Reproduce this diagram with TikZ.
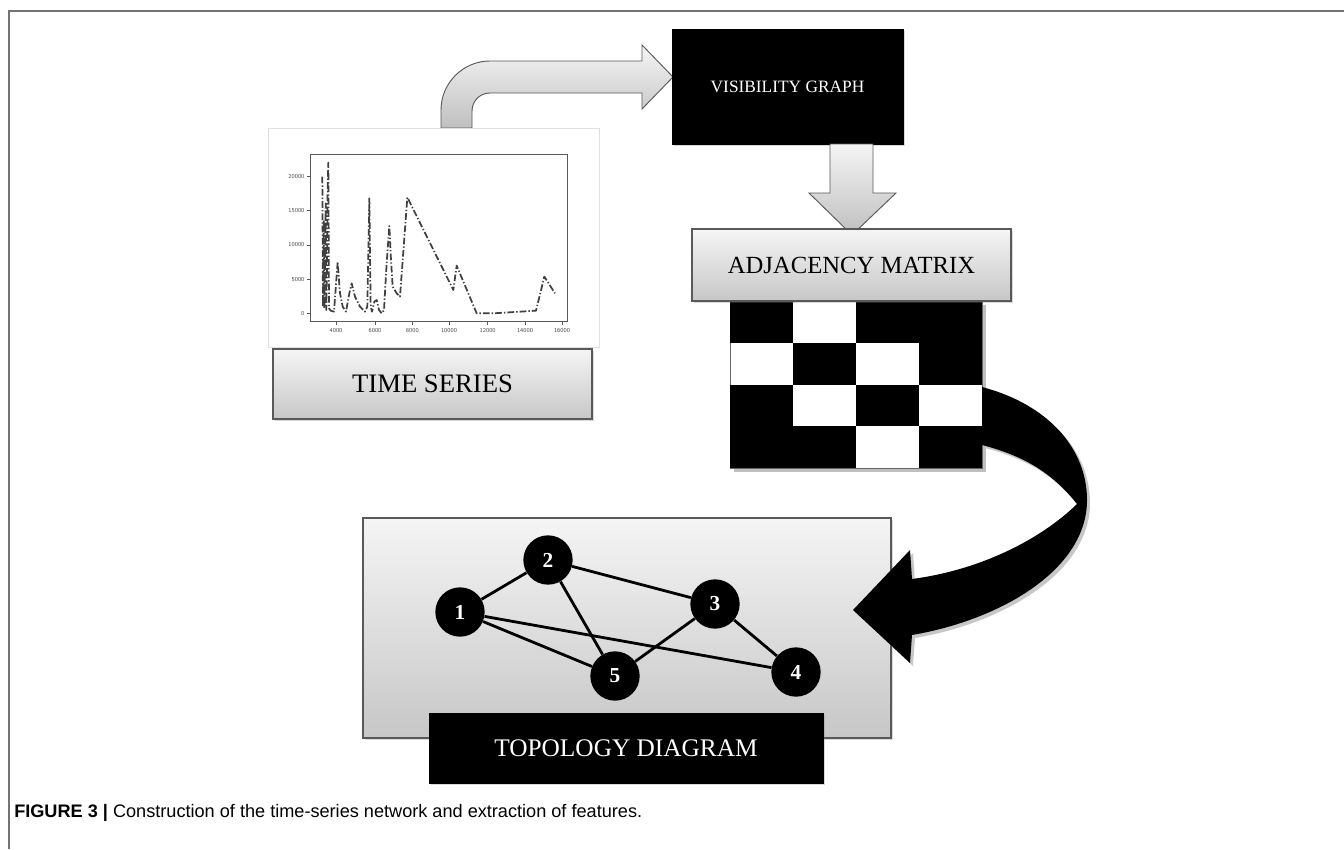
\documentclass[tikz,border=0pt]{standalone}
\usepackage{fontspec}
\setmainfont{Liberation Serif}
\newfontfamily\capfont{Liberation Sans}
\usetikzlibrary{calc,shadows}

\tikzset{
	framegray/.style={draw=black!55, line width=1.1pt},
	blackbox/.style={draw=black, fill=black, text=white, inner sep=0pt,
		drop shadow={shadow xshift=1.5pt, shadow yshift=-1.5pt, opacity=0.3}},
	graybox/.style={draw=black!65, line width=0.8pt, top color=black!4, bottom color=black!22, inner sep=0pt,
		drop shadow={shadow xshift=1.5pt, shadow yshift=-1.5pt, opacity=0.3}},
	blockarrow/.style={draw=black!65, line width=0.7pt, top color=black!4, bottom color=black!25},
	vertex/.style={circle, fill=black, minimum size=37pt, inner sep=0pt, text=white,
		font=\bfseries\fontsize{16}{18}\selectfont},
	link/.style={line width=2.1pt, black},
	ticklabel/.style={font=\sffamily\fontsize{4.5}{5}\selectfont, text=black!70, inner sep=0pt},
	series/.style={black!75, line width=1.3pt, line join=round, dash pattern=on 5pt off 1.6pt on 1pt off 1.6pt}
}

\begin{document}
\begin{tikzpicture}[x=0.75pt,y=-0.75pt]
	\useasboundingbox (0,0) rectangle (1344,849);
	\draw[framegray] (1344,11) -- (9,11) -- (9,849);

	% time series to visibility graph
	\draw[blockarrow] (441,128) -- (441,110) .. controls (441,83) and (463,61) .. (490,61) -- (642,61) -- (642,45)
		-- (673,77) -- (642,109) -- (642,93) -- (490,93) .. controls (480,93) and (472,101) .. (472,111) -- (472,128) -- cycle;

	% time series panel
	\draw[draw=black!12, fill=white] (268,128) rectangle (599,347);
	\begin{scope}[shift={(260,120)},scale=1/3]
		\draw[black!65, line width=0.6pt] (150,103) rectangle (922,604);
		\foreach \xv/\xl in {228/4000,345/6000,457/8000,567/10000,683/12000,795/14000,906/16000}{
			\draw[black!65, line width=0.4pt] (\xv,604) -- (\xv,614);
			\node[ticklabel] (xt\xl) at (\xv,632) {\xl};
		}
		\foreach \yv/\yl in {169/20000,272/15000,375/10000,478/5000,581/0}{
			\draw[black!65, line width=0.4pt] (150,\yv) -- (140,\yv);
			\node[ticklabel, anchor=east] (yt\yl) at (134,\yv) {\yl};
		}
		\draw[series] (187,170) -- (189,560) -- (191,300) -- (193,565) -- (195,430) -- (197,250) -- (199,570)
			-- (201,440) -- (203,200) -- (205,128) -- (207,565) -- (212,572) -- (222,575) -- (233,425)
			-- (240,520) -- (248,560) -- (258,575) -- (268,520) -- (275,490) -- (285,530) -- (300,560)
			-- (315,575) -- (322,560) -- (328,235) -- (332,560) -- (336,575) -- (343,545) -- (350,540)
			-- (357,570) -- (365,580) -- (372,570) -- (380,430) -- (388,318) -- (393,420) -- (398,500)
			-- (410,520) -- (420,530) -- (442,232) -- (580,510) -- (590,437) -- (650,580) -- (700,580)
			-- (828,572) -- (853,470) -- (885,520);
	\end{scope}
	\node[graybox, minimum width=239.25pt, minimum height=52.5pt, font=\fontsize{20}{22}\selectfont]
		(ts) at (432.5,384) {TIME SERIES};

	% visibility graph
	\node[blackbox, minimum width=173.25pt, minimum height=86.25pt, font=\fontsize{13}{15}\selectfont]
		(vis) at (787.5,86.5) {VISIBILITY GRAPH};
	\draw[blockarrow] (830,144) -- (830,193) -- (809,193) -- (852,235) -- (896,193) -- (873,193) -- (873,144) -- cycle;

	% adjacency matrix
	\fill[black!25] (734,305) rectangle (986,472);
	\draw[black!60, fill=white] (730,301) rectangle (982,468);
	\foreach \r/\c in {1/1,1/3,1/4,2/2,2/4,3/1,3/3,4/1,4/2,4/4}
		\fill[black] ({730+(\c-1)*63},{301+(\r-1)*41.75}) rectangle ++(63,41.75);
	\node[graybox, minimum width=239.25pt, minimum height=54pt, font=\fontsize{18.5}{20}\selectfont]
		(adj) at (851.5,265) {ADJACENCY MATRIX};

	% topology
	\node[graybox, minimum width=396pt, minimum height=165pt] (topo) at (627,628) {};
	\node[vertex] (n1) at (460,612) {1};
	\node[vertex] (n2) at (548,560) {2};
	\node[vertex] (n3) at (715,604) {3};
	\node[vertex] (n4) at (796,672) {4};
	\node[vertex] (n5) at (615,676) {5};
	\draw[link] (n1) -- (n2);
	\draw[link] (n1) -- (n5);
	\draw[link] (n1) -- (n4);
	\draw[link] (n2) -- (n5);
	\draw[link] (n2) -- (n3);
	\draw[link] (n3) -- (n5);
	\draw[link] (n3) -- (n4);
	\node[blackbox, minimum width=295.5pt, minimum height=52.5pt, font=\fontsize{19}{21}\selectfont]
		(tl) at (626,748) {TOPOLOGY DIAGRAM};

	% matrix to topology
	\fill[black!22] (985,390) .. controls (1053,408) and (1090,453) .. (1090,503) .. controls (1090,573) and (1003,623) .. (915,638)
		-- (913,666) -- (856,613) -- (913,553) -- (915,582) .. controls (983,573) and (1043,543) .. (1080,507)
		.. controls (1053,473) and (1023,458) .. (985,448) -- cycle;
	\fill[black] (982,387) .. controls (1050,405) and (1087,450) .. (1087,500) .. controls (1087,570) and (1000,620) .. (912,635)
		-- (910,663) -- (853,610) -- (910,550) -- (912,579) .. controls (980,570) and (1040,540) .. (1077,504)
		.. controls (1050,470) and (1020,455) .. (982,445) -- cycle;

	\node[anchor=west, inner sep=0pt, font=\capfont\fontsize{13.6}{15}\selectfont] (cap) at (14,813)
		{\textbf{FIGURE 3 |} Construction of the time-series network and extraction of features.};
\end{tikzpicture}
\end{document}
